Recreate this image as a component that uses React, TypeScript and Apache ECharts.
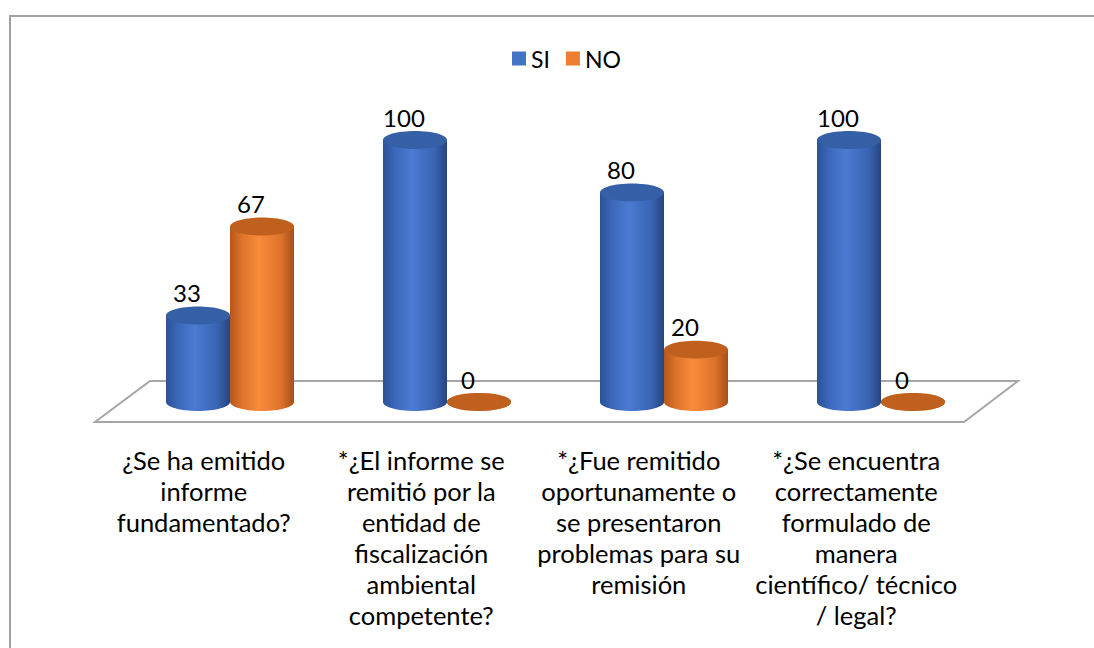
import React, { useEffect, useRef } from "react";
import * as echarts from "echarts";

const categories = [
  "¿Se ha emitido\ninforme\nfundamentado?",
  "*¿El informe se\nremitió por la\nentidad de\nfiscalización\nambiental\ncompetente?",
  "*¿Fue remitido\noportunamente o\nse presentaron\nproblemas para su\nremisión",
  "*¿Se encuentra\ncorrectamente\nformulado de\nmanera\ncientífico/ técnico\n/ legal?",
];
const seriesNames = ["SI", "NO"];
const siValues = [33, 100, 80, 100];
const noValues = [67, 0, 20, 0];

const FONT = "Lato, 'Noto Sans', sans-serif";

const blueSide = {
  type: "linear", x: 0, y: 0, x2: 1, y2: 0,
  colorStops: [
    { offset: 0, color: "#2c5194" },
    { offset: 0.18, color: "#3a67b9" },
    { offset: 0.45, color: "#4b7bd2" },
    { offset: 0.8, color: "#3a64b3" },
    { offset: 1, color: "#26457f" },
  ],
};
const orangeSide = {
  type: "linear", x: 0, y: 0, x2: 1, y2: 0,
  colorStops: [
    { offset: 0, color: "#b5561b" },
    { offset: 0.18, color: "#dc7229" },
    { offset: 0.45, color: "#f98b3b" },
    { offset: 0.8, color: "#dc722a" },
    { offset: 1, color: "#a64e18" },
  ],
};

function makeRender(side: number, sideFill: any, topFill: string) {
  return (params: any, api: any) => {
    const idx = api.value(0);
    const val = api.value(1);
    const base = api.coord([idx, 0]);
    const top = api.coord([idx, val]);
    const band = api.size([1, 0])[0];
    const w = band * 0.295;
    const rx = w / 2;
    const ry = w * 0.14;
    const cx = base[0] + side * rx;
    return {
      type: "group",
      children: [
        {
          type: "rect",
          shape: { x: cx - rx, y: top[1], width: w, height: base[1] - top[1] },
          style: { fill: sideFill },
        },
        {
          type: "ellipse",
          shape: { cx, cy: base[1], rx, ry },
          style: { fill: sideFill },
        },
        {
          type: "ellipse",
          shape: { cx, cy: top[1], rx, ry },
          style: { fill: topFill },
        },
        {
          type: "text",
          x: cx - 11,
          y: top[1] - 23,
          style: {
            text: String(val),
            fill: "#000",
            fontSize: 24,
            fontFamily: FONT,
            align: "center",
            verticalAlign: "middle",
          },
        },
      ],
    };
  };
}

export default function App() {
  const ref = useRef<HTMLDivElement>(null);
  useEffect(() => {
    if (!ref.current) return;
    const chart = echarts.init(ref.current, null, { renderer: "svg" });
    chart.setOption({
      animation: false,
      backgroundColor: "#ffffff",
      legend: {
        data: seriesNames,
        left: 507,
        top: 42,
        itemWidth: 14,
        itemHeight: 14,
        itemGap: 16,
        icon: "rect",
        textStyle: { fontSize: 23, fontFamily: FONT, color: "#000" },
      },
      graphic: [
        {
          type: "rect",
          shape: { x: 10, y: 16, width: 1200, height: 800 },
          style: { fill: "none", stroke: "#a0a0a0", lineWidth: 2 },
          z: -10,
        },
        {
          type: "polygon",
          shape: { points: [[150, 381], [1018, 381], [964, 422], [95, 422]] },
          style: { fill: "none", stroke: "#a6a6a6", lineWidth: 2 },
          z: -10,
        },
      ],
      grid: [
        { left: 121.5, width: 868, top: 140, height: 262 },
        { left: 95, width: 870, top: 140, height: 282 },
      ],
      xAxis: [
        {
          type: "category",
          data: categories,
          gridIndex: 0,
          axisLine: { show: false },
          axisTick: { show: false },
          axisLabel: { show: false },
        },
        {
          type: "category",
          data: categories,
          gridIndex: 1,
          axisLine: { show: false },
          axisTick: { show: false },
          axisLabel: {
            margin: 22,
            fontSize: 25.5,
            lineHeight: 31,
            fontFamily: FONT,
            color: "#000",
            interval: 0,
            align: "center",
          },
        },
      ],
      yAxis: [
        { type: "value", min: 0, max: 100, gridIndex: 0, show: false },
        { type: "value", min: 0, max: 100, gridIndex: 1, show: false },
      ],
      series: [
        {
          name: "SI",
          type: "custom",
          xAxisIndex: 0,
          yAxisIndex: 0,
          itemStyle: { color: "#4472c4" },
          encode: { x: 0, y: 1 },
          data: siValues.map((v, i) => [i, v]),
          renderItem: makeRender(-1, blueSide, "#3560a6"),
          z: 3,
        },
        {
          name: "NO",
          type: "custom",
          xAxisIndex: 0,
          yAxisIndex: 0,
          itemStyle: { color: "#ed7d31" },
          encode: { x: 0, y: 1 },
          data: noValues.map((v, i) => [i, v]),
          renderItem: makeRender(1, orangeSide, "#c0601f"),
          z: 3,
        },
      ],
    });
    return () => chart.dispose();
  }, []);
  return (
    <div
      ref={ref}
      style={{ position: "fixed", left: 0, top: 0, width: 1094, height: 648 }}
    />
  );
}
